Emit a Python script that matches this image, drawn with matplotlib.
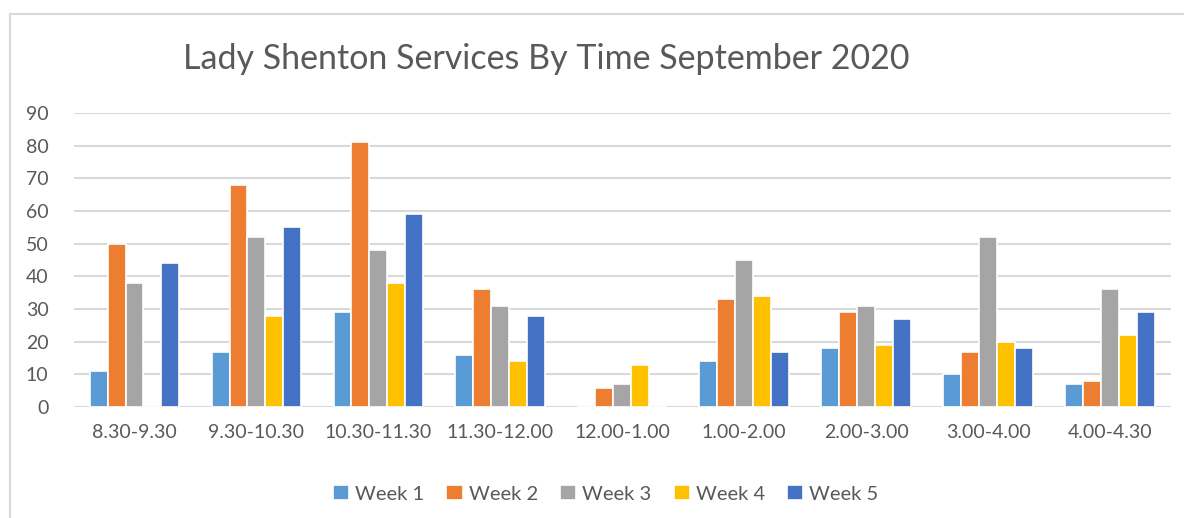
import matplotlib
matplotlib.use("Agg")
import matplotlib.pyplot as plt
import numpy as np
from matplotlib.lines import Line2D

categories = ["8.30-9.30", "9.30-10.30", "10.30-11.30", "11.30-12.00", "12.00-1.00",
              "1.00-2.00", "2.00-3.00", "3.00-4.00", "4.00-4.30"]
week1 = [11, 17, 29, 16, 0, 14, 18, 10, 7]
week2 = [50, 68, 81, 36, 6, 33, 29, 17, 8]
week3 = [38, 52, 48, 31, 7, 45, 31, 52, 36]
week4 = [0, 28, 38, 14, 13, 34, 19, 20, 22]
week5 = [44, 55, 59, 28, 0, 17, 27, 18, 29]
series_names = ["Week 1", "Week 2", "Week 3", "Week 4", "Week 5"]
colors = ["#5B9BD5", "#ED7D31", "#A5A5A5", "#FFC000", "#4472C4"]

plt.rcParams['font.family'] = ['Lato', 'DejaVu Sans']
text_color = "#595959"

W, H = 1184, 518
fig = plt.figure(figsize=(W / 100, H / 100), dpi=100)
ax = fig.add_axes([73.5 / W, 0.214, (1171 - 73.5) / W, 0.568])

# light outer border of the chart (only left and top edges show)
fig.lines.append(Line2D([10 / W, 10 / W], [0, 1 - 14 / H], transform=fig.transFigure,
                        color="#D9D9D9", linewidth=1.5))
fig.lines.append(Line2D([10 / W, 1], [1 - 14 / H, 1 - 14 / H], transform=fig.transFigure,
                        color="#D9D9D9", linewidth=1.5))

x = np.arange(len(categories))
width = 0.147
all_series = [week1, week2, week3, week4, week5]
for i, (vals, name, c) in enumerate(zip(all_series, series_names, colors)):
    ax.bar(x + (i - 2) * width, vals, width, color=c, edgecolor="white",
           linewidth=1.2, label=name, zorder=3)

ax.set_xlim(-0.5, len(categories) - 0.5)
ax.set_ylim(0, 90)
ax.set_yticks(range(0, 91, 10))
ax.set_xticks(x)
ax.set_xticklabels(categories)
ax.grid(axis="y", color="#D9D9D9", linewidth=1.5, zorder=0)
for s in ax.spines.values():
    s.set_visible(False)
ax.tick_params(length=0, labelsize=14, colors=text_color, pad=12)
ax.tick_params(axis="y", pad=18)

fig.text(0.461, 1 - 69 / H, "Lady Shenton Services By Time September 2020", ha="center",
         va="baseline", fontsize=24.5, color=text_color)

ax.legend(loc="center", bbox_to_anchor=(0.485, -0.295), ncol=5, frameon=False,
          fontsize=14.5, labelcolor=text_color, handlelength=0.8, handleheight=0.8,
          columnspacing=1.1, handletextpad=0.3)

fig.savefig("out.png", dpi=100, facecolor="white")
